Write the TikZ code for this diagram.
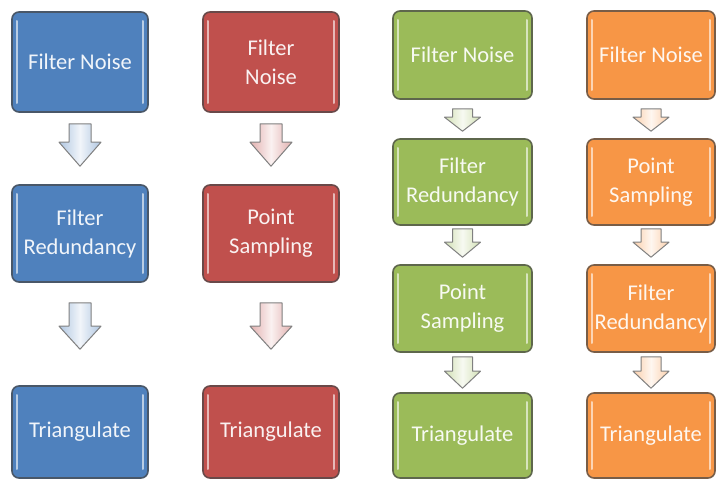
\documentclass[tikz,border=0pt]{standalone}
\usepackage{fontspec}
\setmainfont{Carlito}
\usetikzlibrary{calc}

\definecolor{cblue}{HTML}{4F81BD}
\definecolor{cred}{HTML}{C0504D}
\definecolor{cgreen}{HTML}{9BBB59}
\definecolor{corange}{HTML}{F79646}

\tikzset{
  stagebox/.style={rectangle, rounded corners=7pt, inner sep=0pt, align=center,
    line width=1.6pt, fill=#1, draw=#1!35!black!80, text=white!92!#1,
    font=\fontsize{22.5}{29}\selectfont,
    path picture={
      \draw[#1!40!white, line width=2pt, line cap=round]
        ([xshift=5pt,yshift=-9pt]path picture bounding box.north west) --
        ([xshift=5pt,yshift=9pt]path picture bounding box.south west);
      \draw[#1!40!white, line width=2pt, line cap=round]
        ([xshift=-5pt,yshift=-9pt]path picture bounding box.north east) --
        ([xshift=-5pt,yshift=9pt]path picture bounding box.south east);
    }},
  flowarrow/.style={draw=black!50, line width=1pt, line join=round,
    left color=#1!45!white, right color=#1!45!white, middle color=white!92!#1},
}

% block arrow from the bottom of #1 to the top of #2
% #3 colour, #4 gap below source, #5 gap above target,
% #6 half head width, #7 half shaft width, #8 head length
\newcommand\stagearrow[8]{%
  \draw[flowarrow=#3] let \p1=(#1.south), \p2=(#2.north) in
    (\x1-#7pt,\y1-#4pt) -- (\x1+#7pt,\y1-#4pt) -- (\x1+#7pt,\y2+#5pt+#8pt)
    -- (\x1+#6pt,\y2+#5pt+#8pt) -- (\x1,\y2+#5pt) -- (\x1-#6pt,\y2+#5pt+#8pt)
    -- (\x1-#7pt,\y2+#5pt+#8pt) -- cycle;}

\begin{document}
\begin{tikzpicture}[x=1pt,y=-1pt]
\useasboundingbox (0,0) rectangle (716,479);
\fill[white] (0,0) rectangle (716,479);

% blue column
\node[stagebox=cblue, minimum width=136pt, minimum height=100pt] (b1) at (80,62) {Filter Noise};
\node[stagebox=cblue, minimum width=136pt, minimum height=97pt] (b2) at (80,233.5) {Filter\\Redundancy};
\node[stagebox=cblue, minimum width=136pt, minimum height=92pt] (b3) at (80,432) {Triangulate};

% red column
\node[stagebox=cred, minimum width=136pt, minimum height=100pt] (r1) at (271,62) {Filter\\Noise};
\node[stagebox=cred, minimum width=136pt, minimum height=97pt] (r2) at (271,233.5) {Point\\Sampling};
\node[stagebox=cred, minimum width=136pt, minimum height=92pt] (r3) at (271,432) {Triangulate};

% green column
\node[stagebox=cgreen, minimum width=139pt, minimum height=88pt] (g1) at (462.5,55) {Filter Noise};
\node[stagebox=cgreen, minimum width=139pt, minimum height=86pt] (g2) at (462.5,182) {Filter\\Redundancy};
\node[stagebox=cgreen, minimum width=139pt, minimum height=87pt] (g3) at (462.5,308.5) {Point\\Sampling};
\node[stagebox=cgreen, minimum width=139pt, minimum height=85pt] (g4) at (462.5,435.5) {Triangulate};

% orange column
\node[stagebox=corange, minimum width=128pt, minimum height=88pt] (o1) at (651,55) {Filter Noise};
\node[stagebox=corange, minimum width=128pt, minimum height=86pt] (o2) at (651,182) {Point\\Sampling};
\node[stagebox=corange, minimum width=128pt, minimum height=87pt] (o3) at (651,308.5) {Filter\\Redundancy};
\node[stagebox=corange, minimum width=128pt, minimum height=85pt] (o4) at (651,435.5) {Triangulate};

% connectors
\stagearrow{b1}{b2}{cblue}{11}{18}{21}{11}{24}
\stagearrow{b2}{b3}{cblue}{20}{36}{21}{11}{23}
\stagearrow{r1}{r2}{cred}{11}{18}{21}{11}{24}
\stagearrow{r2}{r3}{cred}{20}{36}{21}{11}{23}

\stagearrow{g1}{g2}{cgreen}{9}{7}{18}{10}{14}
\stagearrow{g2}{g3}{cgreen}{3}{7}{18}{10}{15}
\stagearrow{g3}{g4}{cgreen}{4}{4}{18}{10}{17}
\stagearrow{o1}{o2}{corange}{9}{7}{18}{10}{14}
\stagearrow{o2}{o3}{corange}{3}{7}{18}{10}{15}
\stagearrow{o3}{o4}{corange}{4}{4}{18}{10}{17}
\end{tikzpicture}
\end{document}
